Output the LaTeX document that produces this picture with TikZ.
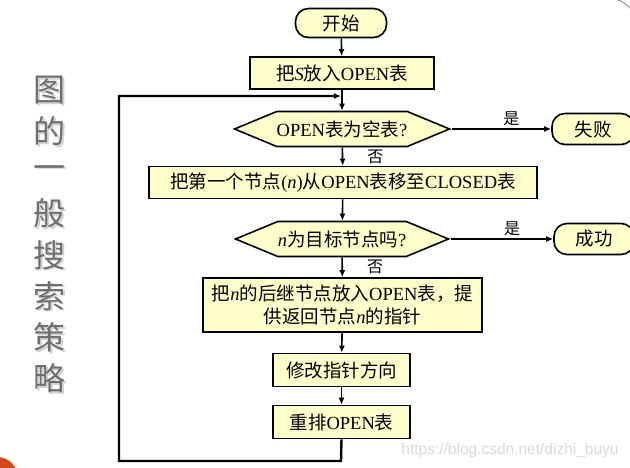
\documentclass[tikz,border=0pt]{standalone}
\usepackage{fontspec}
\setmainfont{Liberation Serif}
\newfontfamily\cjk{Noto Sans CJK SC}
\newfontfamily\markfont{Liberation Sans}
\usetikzlibrary{arrows.meta}
\usetikzlibrary{shapes.symbols}
\definecolor{boxfill}{HTML}{FFFFCC}
\definecolor{titlegray}{HTML}{6E6E6E}
\definecolor{slideorange}{HTML}{D24A1B}
\newcommand{\zh}[1]{{\cjk #1}}
\newcommand{\boxwidth}{1.6pt}
\newcommand{\flowfont}{\fontsize{18.5}{23}\selectfont}
\tikzset{
	procbox/.style={draw, fill=boxfill, line width=\boxwidth, inner sep=0pt,
		minimum height=32, font=\flowfont, align=center},
	termbox/.style={procbox, rounded corners=13pt, minimum height=29},
	testbox/.style={procbox, signal, signal to=west and east,
		signal pointer angle=45, minimum width=212, minimum height=35},
	flow/.style={line width=1.6pt, -{Latex[length=7pt, width=6pt]}},
	flowlabel/.style={font=\fontsize{16}{18}\selectfont, inner sep=2pt}
}

\begin{document}
\begin{tikzpicture}[x=1pt, y=-1pt]
	\useasboundingbox (0, 0) rectangle (630, 468);

	% slide decoration
	\fill[slideorange] (-3, 478) circle (21);
	\draw[gray, line width=.8pt] (616, -1) to[bend left=12] (631, 9);
	\foreach \ch [count=\i] in {图,的,一,般,搜,索,策,略} {
		\node[text=gray!35, font=\fontsize{32}{32}\selectfont\cjk]
			at (51.5, 50.5 + 41.2 * \i) {\ch};
		\node[text=titlegray, font=\fontsize{32}{32}\selectfont\cjk]
		 	(title\i) at (50, 49 + 41.2 * \i) {\ch};
	}

	% flow chart
	\node[termbox, minimum width=91] (start) at (341, 23) {\zh{开始}};
	\node[procbox, minimum width=184] (putS) at (342, 73)
		{\zh{把}\textit{S}\zh{放入}OPEN\zh{表}};
	\node[testbox] (empty) at (342, 129) {OPEN\zh{表为空表}?};
	\node[termbox, minimum width=82, minimum height=31] (fail) at (593, 129)
		{\zh{失败}};
	\node[procbox, minimum width=388] (move) at (343, 182.5)
		{\zh{把第一个节点}(\textit{n})\zh{从}OPEN\zh{表移至}CLOSED\zh{表}};
	\node[testbox] (goal) at (342, 239) {\textit{n}\zh{为目标节点吗}?};
	\node[termbox, minimum width=80, minimum height=31] (succ) at (594, 239)
		{\zh{成功}};
	\node[procbox, minimum width=279, minimum height=54] (expand) at (342.5, 305)
		{\zh{把}\textit{n}\zh{的后继节点放入}OPEN\zh{表，提}\\
		 \zh{供返回节点}\textit{n}\zh{的指针}};
	\node[procbox, minimum width=137, minimum height=33] (modify) at (341.5, 370)
		{\zh{修改指针方向}};
	\node[procbox, minimum width=137, minimum height=33] (reorder) at (341.5, 422)
		{\zh{重排}OPEN\zh{表}};

	\coordinate (loopbot) at (341, 461);
	\coordinate (looptop) at (119, 96);
	\coordinate (loopend) at (341, 96);

	\draw[flow] (start) -- (putS);
	\draw[flow] (putS) -- (empty);
	\draw[flow] (empty.east) -- (fail.west)
		node[flowlabel, pos=.6, above] {\zh{是}};
	\draw[flow] (empty) -- (move)
		node[flowlabel, midway, right, xshift=22] {\zh{否}};
	\draw[flow] (move) -- (goal);
	\draw[flow] (goal.east) -- (succ.west)
		node[flowlabel, pos=.6, above] {\zh{是}};
	\draw[flow] (goal) -- (expand)
		node[flowlabel, midway, right, xshift=22] {\zh{否}};
	\draw[flow] (expand) -- (modify);
	\draw[flow] (modify) -- (reorder);
	\draw[flow, line width=2.4pt, line join=miter] (reorder.south) -- (loopbot)
		-| (looptop) -- (loopend);

	% watermark
	\node[text=gray!30, font=\fontsize{15.5}{17}\selectfont\markfont]
		(mark) at (510, 450) {https://blog.csdn.net/dizhi\_buyu};
\end{tikzpicture}
\end{document}
